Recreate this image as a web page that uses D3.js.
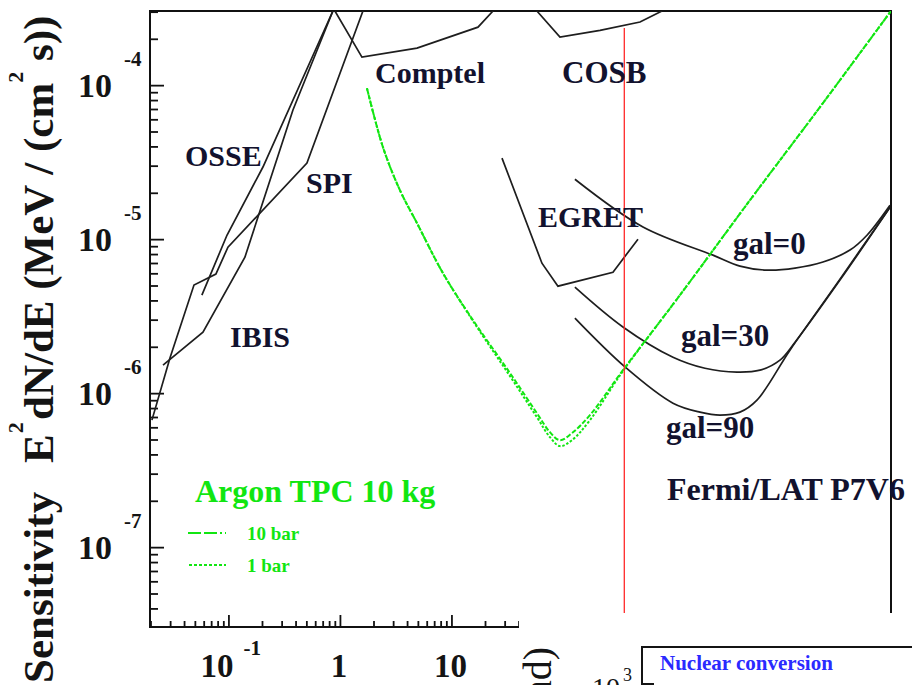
<!DOCTYPE html>
<html><head><meta charset="utf-8">
<script src="https://cdn.jsdelivr.net/npm/d3@7"></script>
<style>
body{margin:0;background:#fff}
svg{display:block}
</style>
</head><body>
<svg id="c" width="912" height="685"></svg>
<script>
// ---------- data (energy MeV, E^2 dN/dE in MeV/(cm^2 s)) ----------
const spi    = [[0.0206,6.68e-7],[0.0299,1.69e-6],[0.0491,5.03e-6],[0.0772,5.93e-6],[0.099,8.87e-6],[0.506,3.12e-5],[1.608,3.03e-4]];
const osse   = [[0.0578,4.33e-6],[0.097,1.06e-5],[0.204,2.94e-5],[0.865,3.03e-4]];
const ibis   = [[0.0259,1.52e-6],[0.0591,2.49e-6],[0.1406,7.64e-6],[0.379,6.89e-5],[0.865,3.03e-4]];
const comptel= [[0.902,3.03e-4],[1.575,1.52e-4],[4.91,1.74e-4],[17.3,2.38e-4],[23.6,3.03e-4]];
const cosb   = [[58.4,3.03e-4],[94.0,2.05e-4],[215,2.27e-4],[491,2.57e-4],[773,3.03e-4]];
const egret  = [[28.4,3.36e-5],[64.8,6.98e-6],[90.2,4.95e-6],[281,6.10e-6],[471,1.0e-5]];
const gal0   = [[128,2.45e-5],[522,1.20e-5],[2213,7.87e-6],[3866,6.68e-6],[6761,6.29e-6],[12050,6.48e-6],[21480,7.10e-6],[37500,8.49e-6],[53250,1.06e-5],[85700,1.66e-5]];
const gal30  = [[128,4.88e-6],[345,2.69e-6],[970,1.71e-6],[1878,1.45e-6],[3639,1.37e-6],[5844,1.41e-6],[8833,1.64e-6],[12050,2.14e-6],[30500,5.42e-6],[85700,1.61e-5]];
const gal90  = [[128,3.07e-6],[360,1.48e-6],[970,8.61e-7],[1694,7.53e-7],[2559,7.20e-7],[3866,7.53e-7],[5495,9.01e-7],[10860,1.90e-6],[30500,5.50e-6],[85700,1.61e-5]];
const argon10bar = [[1.747,9.56e-5],[2.43,3.96e-5],[3.45,2.08e-5],[4.91,1.27e-5],[8.39,6.02e-6],[15.6,2.98e-6],[33.5,1.35e-6],[58.4,7.41e-7],[76.4,5.58e-7],[94.0,4.95e-7],[120.5,5.50e-7],[174.6,7.20e-7],[345,1.41e-6],[1120,4.33e-6],[4754,1.79e-5],[20180,7.20e-5],[87500,3.03e-4]];
const argon1bar  = [[1.747,9.56e-5],[2.43,3.96e-5],[3.45,2.08e-5],[4.91,1.27e-5],[8.39,6.02e-6],[15.6,2.94e-6],[33.5,1.29e-6],[58.4,6.98e-7],[76.4,5.18e-7],[94.0,4.53e-7],[120.5,4.95e-7],[174.6,6.68e-7],[345,1.39e-6],[1120,4.33e-6],[4754,1.79e-5],[20180,7.20e-5],[87500,3.03e-4]];
const markerEnergy = 355;   // red vertical marker (MeV)
const markerTop = 2.35e-4;

const xMajor = [0.1, 1, 10, 100, 1000, 10000];
const xLabels = [{v:0.1, base:"10", sup:"-1"}, {v:1, base:"1", sup:""}, {v:10, base:"10", sup:""}];
const yMajor = [1e-7, 1e-6, 1e-5, 1e-4];
const yLabels = ["-7", "-6", "-5", "-4"];
const curveNames = ["OSSE","SPI","IBIS","Comptel","COSB","EGRET","gal=0","gal=30","gal=90","Fermi/LAT P7V6"];

// ---------- scales ----------
const W = 912, H = 685;
const m = {left:150, top:11, right:21, bottom:58};
const x = d3.scaleLog().domain([0.0198, 87500]).range([m.left, W - m.right]);
const y = d3.scaleLog().domain([3.03e-8, 3.03e-4]).range([H - m.bottom, m.top]);

const FONT = "Liberation Serif, Times New Roman, Tinos, Noto Serif, DejaVu Serif, serif";
const svg = d3.select("#c");
svg.append("defs").append("clipPath").attr("id","clip")
  .append("rect").attr("x",m.left).attr("y",m.top)
  .attr("width",x.range()[1]-m.left).attr("height",y.range()[0]-m.top);

function txt(parent, s, xx, yy, size, fill, opts={}){
  const t = parent.append("text").attr("x",xx).attr("y",yy)
    .style("font-family",FONT).style("font-weight",opts.weight||"bold")
    .style("font-size",size+"px").attr("fill",fill).style("white-space","pre").text(s);
  if (opts.anchor) t.attr("text-anchor",opts.anchor);
  if (opts.transform) t.attr("transform",opts.transform);
  return t;
}

// ---------- axes ----------
const minorX = [];
for (let e=-2;e<=4;e++) for (let k=2;k<=9;k++){const v=k*Math.pow(10,e); if(v>x.domain()[0]&&v<x.domain()[1]) minorX.push(v);}
const minorY = [];
for (let e=-8;e<=-4;e++) for (let k=2;k<=9;k++){const v=k*Math.pow(10,e); if(v>y.domain()[0]&&v<y.domain()[1]) minorY.push(v);}

function styleAxis(g){ g.selectAll("line").attr("stroke","#111").attr("stroke-width",1.8); g.select(".domain").remove(); }

svg.append("g").attr("transform",`translate(0,${y.range()[0]})`)
  .call(d3.axisBottom(x).tickValues(minorX).tickSize(-6).tickFormat("")).call(styleAxis);
svg.append("g").attr("transform",`translate(0,${y.range()[0]})`)
  .call(d3.axisBottom(x).tickValues(xMajor).tickSize(-12).tickFormat("")).call(styleAxis);
svg.append("g").attr("transform",`translate(${m.left},0)`)
  .call(d3.axisLeft(y).tickValues(minorY).tickSize(-8).tickFormat("")).call(styleAxis);
svg.append("g").attr("transform",`translate(${m.left},0)`)
  .call(d3.axisLeft(y).tickValues(yMajor).tickSize(-14).tickFormat("")).call(styleAxis);

// frame
svg.append("rect").attr("x",m.left).attr("y",m.top)
  .attr("width",x.range()[1]-m.left).attr("height",y.range()[0]-m.top)
  .attr("fill","none").attr("stroke","#111").attr("stroke-width",2);

// tick labels
const tickCol = "#141414";
yMajor.forEach((v,i)=>{
  txt(svg,"10",112,y(v)+12,34,tickCol,{anchor:"end"});
  txt(svg,yLabels[i],124,y(v)-19,21,tickCol);
});
xLabels.forEach(d=>{
  if (d.sup){
    txt(svg,d.base,x(d.v)+5,677,33,tickCol,{anchor:"end"});
    txt(svg,d.sup,x(d.v)+15,655,21,tickCol);
  } else {
    txt(svg,d.base,x(d.v)-1,677,33,tickCol,{anchor:"middle"});
  }
});

// y title (pieces placed along the rotated baseline)
const tg = svg.append("g").attr("transform","translate(53,683) rotate(-90)");
txt(tg,"Sensitivity",0,0,43,"#141414");
const eT = txt(tg,"E",220,0,43,"#141414");
txt(tg,"2",220+eT.node().getComputedTextLength()+1,-30,22,"#141414");
const rest = txt(tg,"dN/dE (MeV / (cm",263,0,43,"#141414");
let cur = 263 + rest.node().getComputedTextLength();
const s2 = txt(tg,"2",cur,-30,22,"#141414");
cur += s2.node().getComputedTextLength();
txt(tg," s))",cur,0,43,"#141414");

// ---------- curves ----------
const plot = svg.append("g").attr("clip-path","url(#clip)");
const lin = d3.line().x(d=>x(d[0])).y(d=>y(d[1]));
const smooth = d3.line().x(d=>x(d[0])).y(d=>y(d[1])).curve(d3.curveCatmullRom.alpha(0.5));
const black = "#1e1e1e";
[spi, osse, ibis, comptel, cosb, egret].forEach(s=>{
  plot.append("path").datum(s).attr("d",lin).attr("fill","none")
    .attr("stroke",black).attr("stroke-width",1.7);
});
[gal0, gal30, gal90].forEach(s=>{
  plot.append("path").datum(s).attr("d",smooth).attr("fill","none")
    .attr("stroke",black).attr("stroke-width",1.7);
});
const green = "#11e611";
plot.append("path").datum(argon1bar).attr("d",smooth).attr("fill","none")
  .attr("stroke",green).attr("stroke-width",2).attr("stroke-dasharray","2.5,1.8");
plot.append("path").datum(argon10bar).attr("d",smooth).attr("fill","none")
  .attr("stroke",green).attr("stroke-width",2).attr("stroke-dasharray","5,2");

// red marker
plot.append("line").attr("x1",x(markerEnergy)).attr("x2",x(markerEnergy))
  .attr("y1",y(markerTop)).attr("y2",y.range()[0])
  .attr("stroke","#ff2a2a").attr("stroke-width",1.3);

// curve labels
const labCol = "#12122e";
const labPos = [[185,166,30],[306,193,30],[230,347,30],[375,83,30],[562,83,31],[538,227,30],[733,254,31],[681,346,31],[666,438,31],[667,500,32]];
curveNames.forEach((n,i)=> txt(svg,n,labPos[i][0],labPos[i][1],labPos[i][2],labCol));

// legend
txt(svg,"Argon TPC 10 kg",195,502,32,green);
svg.append("line").attr("x1",188).attr("x2",226).attr("y1",533).attr("y2",533)
  .attr("stroke",green).attr("stroke-width",2).attr("stroke-dasharray","13,3,13,3,2,3");
svg.append("line").attr("x1",189).attr("x2",226).attr("y1",565).attr("y2",565)
  .attr("stroke",green).attr("stroke-width",2).attr("stroke-dasharray","3,2");
txt(svg,"10 bar",247,540,19,green);
txt(svg,"1 bar",247,572,19,green);

// ---------- overlapping neighbouring panel ----------
svg.append("rect").attr("x",519).attr("y",613).attr("width",W-519).attr("height",H-613).attr("fill","#fff");
txt(svg,"nd)",0,0,40,"#141414",{weight:"normal",anchor:"end",transform:"translate(551,647) rotate(-90)"});
txt(svg,"10",592,697,28,"#141414",{weight:"normal"});
txt(svg,"3",623,681,18,"#141414",{weight:"normal"});
svg.append("path").attr("d","M642,685 V647 H912").attr("fill","none").attr("stroke","#141414").attr("stroke-width",2);
svg.append("line").attr("x1",642).attr("x2",654).attr("y1",684).attr("y2",684).attr("stroke","#141414").attr("stroke-width",2);
txt(svg,"Nuclear conversion",660,670,21,"#2a2aff");
</script>
</body></html>
